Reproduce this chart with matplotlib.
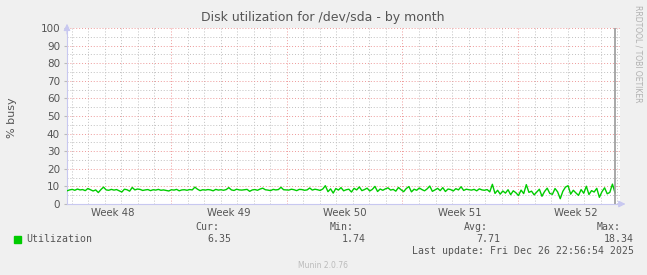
import numpy as np
import matplotlib.pyplot as plt

# Munin disk utilization, by month (x in days since Monday of week 48)
weeks = ['Week 48', 'Week 49', 'Week 50', 'Week 51', 'Week 52']
week_centers = [3.5, 10.5, 17.5, 24.5, 31.5]
t_start, t_end = 0.71, 33.86

util = [
    # week 48
    7.5, 8.0, 8.3, 7.8, 8.5, 8.0,
    8.2, 7.6, 8.8, 8.1, 7.4, 8.0,
    6.5, 8.2, 9.6, 8.0, 7.8, 8.3,
    7.9, 8.2, 7.5, 6.8, 8.4, 8.1,
    7.3, 9.4, 8.0, 8.5, 8.3, 7.7,
    8.0, 8.2, 7.6, 8.1, 7.9, 8.3,
    7.8, 8.0, 7.7, 7.4, 8.1, 7.9,
    # week 49
    8.3, 7.5, 8.0, 8.1, 7.8, 8.2,
    8.0, 9.6, 8.4, 7.6, 8.1, 7.9,
    8.2, 8.0, 7.5, 8.3, 7.9, 8.1,
    7.8, 8.2, 9.3, 8.0, 7.7, 8.4,
    8.0, 7.9, 8.1, 8.3, 7.2, 8.0,
    8.2, 7.8, 8.5, 9.0, 8.1, 7.9,
    7.6, 8.3, 8.0, 8.2, 9.5, 8.1,
    # week 50
    8.0, 7.9, 8.4, 8.1, 7.6, 8.3,
    8.2, 7.8, 8.0, 9.1, 7.9, 8.4,
    8.1, 7.7, 8.5, 10.4, 7.0, 8.6,
    6.2, 8.8, 7.9, 9.3, 7.5, 8.1,
    8.4, 6.8, 8.9, 8.0, 9.7, 7.6,
    8.2, 9.0, 7.4, 8.3, 10.0, 7.1,
    8.5, 7.8, 8.6, 9.2, 7.9, 8.3,
    # week 51
    7.3, 9.4, 8.1, 7.0, 8.8, 9.9,
    6.9, 8.4, 7.8, 9.1, 8.2, 7.5,
    8.6, 10.2, 7.2, 8.0, 8.9, 7.6,
    9.3, 7.1, 8.5, 8.2, 7.4, 8.7,
    8.0, 9.8, 7.7, 8.4, 8.1, 7.9,
    8.3, 7.5, 8.6, 8.0, 7.8, 8.2,
    6.9, 11.2, 6.0, 7.8, 5.6, 7.4,
    # week 52
    6.2, 8.1, 5.3, 7.5, 6.4, 4.8,
    7.9, 5.9, 11.0, 6.6, 7.3, 5.2,
    6.8, 8.4, 4.4, 7.1, 9.0, 6.0,
    5.5, 8.8, 6.9, 3.0, 7.2, 9.6,
    10.4, 5.6, 7.8, 6.3, 4.9, 8.2,
    6.1, 10.1, 5.4, 7.6, 6.8, 8.9,
    3.8, 7.0, 9.2, 5.8, 6.6, 11.3, 6.35,
]

stats_labels = ['Cur:', 'Min:', 'Avg:', 'Max:']
stats_values = ['6.35', '1.74', '7.71', '18.34']

grey_txt = '#555555'
axis_col = '#C8C8F0'
major_col = '#EE9999'
minor_col = '#C0C0C0'

fig = plt.figure(figsize=(6.47, 2.75), dpi=100, facecolor='#F0F0F0')
ax = fig.add_axes([67 / 647, 71 / 275, 553 / 647, 176 / 275])
ax.set_facecolor('white')
ax.set_xlim(t_start, 34.16)
ax.set_ylim(0, 100)

# grid: daily / weekly verticals, 5 / 10 horizontals
for d in range(1, 35):
    c = major_col if d % 7 == 0 else minor_col
    ax.axvline(d, color=c, lw=0.7, ls=(0, (1, 2)), zorder=1)
for v in range(5, 101, 5):
    c = major_col if v % 10 == 0 else minor_col
    ax.axhline(v, color=c, lw=0.7, ls=(0, (1, 2)), zorder=1)

x = np.linspace(t_start, t_end, len(util))
ax.plot(x, util, color='#00CC00', lw=1.0, zorder=3)
ax.axvline(t_end, color='#999999', lw=1.2, zorder=4)

for s in ['top', 'right']:
    ax.spines[s].set_visible(False)
for s in ['left', 'bottom']:
    ax.spines[s].set_color(axis_col)
    ax.spines[s].set_linewidth(0.8)

# axis arrows
ax.annotate('', xy=(0, 1.04), xytext=(0, 0.95), xycoords='axes fraction',
            arrowprops=dict(arrowstyle='-|>', color=axis_col, lw=0.8))
ax.annotate('', xy=(1.015, 0), xytext=(0.99, 0), xycoords='axes fraction',
            arrowprops=dict(arrowstyle='-|>', color=axis_col, lw=0.8))

ax.set_yticks(range(0, 101, 10))
ax.tick_params(axis='y', length=2, color='#BBBBBB', labelsize=7.5,
               labelcolor=grey_txt, pad=3)
ax.set_xticks(week_centers, weeks)
ax.tick_params(axis='x', length=0, labelsize=7.3, labelcolor=grey_txt, pad=3)

fig.text(323 / 647, 1 - 18 / 275, 'Disk utilization for /dev/sda - by month',
         ha='center', va='center', fontsize=9, color=grey_txt)
fig.text(12 / 647, 1 - 118 / 275, '% busy', rotation=90, ha='center',
         va='center', fontsize=8, color=grey_txt)
fig.text(638 / 647, 1 - 5 / 275, 'RRDTOOL / TOBI OETIKER', rotation=270,
         ha='center', va='top', fontsize=5.5, color='#B0B0B0')

# legend block
mono = 'DejaVu Sans Mono'
fig.patches.append(plt.Rectangle((14 / 647, 1 - 243 / 275), 7 / 647, 7 / 275,
                                 transform=fig.transFigure, color='#00CC00'))
fig.text(26 / 647, 1 - 239.5 / 275, 'Utilization', family=mono, fontsize=7.1,
         color=grey_txt, va='center')
lab_x = [219, 354, 488, 621]
val_x = [231, 366, 500, 634]
for lx, vx, lab, val in zip(lab_x, val_x, stats_labels, stats_values):
    fig.text(lx / 647, 1 - 227.5 / 275, lab, family=mono, fontsize=7.1,
             color=grey_txt, ha='right', va='center')
    fig.text(vx / 647, 1 - 239.5 / 275, val, family=mono, fontsize=7.1,
             color=grey_txt, ha='right', va='center')
fig.text(634 / 647, 1 - 251.5 / 275, 'Last update: Fri Dec 26 22:56:54 2025',
         family=mono, fontsize=7.1, color=grey_txt, ha='right', va='center')
fig.text(323 / 647, 1 - 265 / 275, 'Munin 2.0.76', ha='center', va='center',
         fontsize=5.5, color='#BBBBBB')

fig.savefig('out.png', dpi=100, facecolor=fig.get_facecolor())
